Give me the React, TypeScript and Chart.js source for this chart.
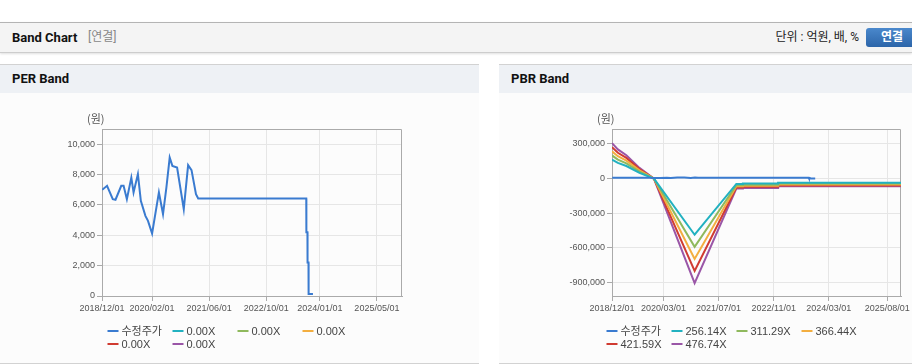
import React, { useEffect, useRef } from 'react';
import { Chart, registerables } from 'chart.js';

Chart.register(...registerables);

// ---------- data ----------
const priceLabel = '수정주가';
const priceDates = ['2018-12-03', '2019-01-13', '2019-03-03', '2019-03-26', '2019-05-14', '2019-06-03', '2019-07-01', '2019-08-08', '2019-08-27', '2019-10-03', '2019-10-28', '2019-12-06', '2019-12-28', '2020-02-01', '2020-03-30', '2020-05-04', '2020-06-02', '2020-06-30', '2020-07-23', '2020-09-01', '2020-10-28', '2020-12-04', '2021-01-02', '2021-02-09', '2021-02-28', '2023-09-07', '2023-09-08', '2023-09-17', '2023-09-18', '2023-09-26', '2023-09-27', '2023-11-03'];
const priceValues = [7000, 7260, 6380, 6340, 7260, 7260, 6380, 7800, 6820, 8030, 6270, 5280, 4950, 4120, 6820, 5400, 7150, 9120, 8570, 8460, 5720, 8620, 8290, 6710, 6420, 6420, 4200, 4200, 2200, 2200, 130, 130];

const perBandLabels = ['0.00X', '0.00X', '0.00X', '0.00X', '0.00X'];
const pbrBandLabels = ['256.14X', '311.29X', '366.44X', '421.59X', '476.74X'];

const bandDates = ['2018-12-01', '2019-01-22', '2019-04-07', '2019-08-01', '2019-12-07', '2020-12-01', '2021-12-05', '2022-01-31', '2022-02-01', '2022-12-09', '2022-12-10', '2025-12-01'];
const pbrBand1 = [165210, 135754, 108860, 49947, 0, -486666, -46617, -46617, -43544, -43544, -35860, -35860];
const pbrBand2 = [200782, 164984, 132298, 60702, 0, -591451, -56655, -56655, -52919, -52919, -43581, -43581];
const pbrBand3 = [236354, 194213, 155737, 71456, 0, -696236, -66692, -66692, -62295, -62295, -51302, -51302];
const pbrBand4 = [271926, 223443, 179176, 82210, 0, -801021, -76729, -76729, -71670, -71670, -59023, -59023];
const pbrBand5 = [307497, 252672, 202615, 92964, 0, -905806, -86767, -86767, -81046, -81046, -66744, -66744];
const perBand1: number[] = [];
const perBand2: number[] = [];
const perBand3: number[] = [];
const perBand4: number[] = [];
const perBand5: number[] = [];

const xStart = '2018/12/01';
const xEnd = '2025/12/01';
const perXTicks = ['2018/12/01', '2020/02/01', '2021/06/01', '2022/10/01', '2024/01/01', '2025/05/01'];
const pbrXTicks = ['2018/12/01', '2020/03/01', '2021/07/01', '2022/11/01', '2024/03/01', '2025/08/01'];
const perYTicks = [0, 2000, 4000, 6000, 8000, 10000];
const pbrYTicks = [-900000, -600000, -300000, 0, 300000];
const perYRange = [0, 11000];
const pbrYRange = [-1018000, 430000];
const yUnit = '(원)';

const seriesColors = ['#3a7bd0', '#22b1c0', '#8fb95d', '#f3ae40', '#d03b31', '#9a56a7'];

// ---------- helpers ----------
function toMs(s: string) {
  const [y, m, d] = s.split(/[-/]/).map(Number);
  return Date.UTC(y, m - 1, d);
}
function pad(n: number) {
  return n < 10 ? '0' + n : String(n);
}
function fmtDate(ms: number) {
  const dt = new Date(ms);
  return `${dt.getUTCFullYear()}/${pad(dt.getUTCMonth() + 1)}/${pad(dt.getUTCDate())}`;
}

const tickFont = { family: '"Liberation Sans", Arial, sans-serif', size: 9 };
const AXIS = '#aaaaaa';
const GRID = '#e6e6e6';

const framePlugin = {
  id: 'frame',
  beforeDatasetsDraw(chart: any) {
    const { ctx, chartArea } = chart;
    ctx.save();
    ctx.strokeStyle = AXIS;
    ctx.lineWidth = 1;
    ctx.beginPath();
    const t = Math.round(chartArea.top) + 0.5;
    const r = Math.round(chartArea.right) - 0.5;
    ctx.moveTo(chartArea.left, t);
    ctx.lineTo(r, t);
    ctx.lineTo(r, chartArea.bottom);
    ctx.stroke();
    ctx.restore();
  },
};

const unitPlugin = {
  id: 'unit',
  afterDraw(chart: any) {
    const { ctx, chartArea } = chart;
    ctx.save();
    ctx.font = '11px "Noto Sans CJK KR", "Liberation Sans", sans-serif';
    ctx.fillStyle = '#555';
    ctx.textAlign = 'left';
    ctx.textBaseline = 'middle';
    ctx.fillText(yUnit, chartArea.left - 15, chartArea.top - 10);
    ctx.restore();
  },
};

const gridLegendPlugin = {
  id: 'gridLegend',
  afterDraw(chart: any) {
    const { ctx, chartArea } = chart;
    const ds = chart.data.datasets;
    const colW = 65;
    const perRow = 4;
    const x0 = chart.width / 2 - 132;
    const rowY = [chartArea.bottom + 35, chartArea.bottom + 48];
    ctx.save();
    ctx.font = '11px "Liberation Sans", "Noto Sans CJK KR", sans-serif';
    ctx.textBaseline = 'middle';
    ctx.textAlign = 'left';
    ds.forEach((d: any, i: number) => {
      const row = Math.floor(i / perRow);
      const col = i % perRow;
      const x = x0 + col * colW;
      const y = rowY[row];
      ctx.strokeStyle = d.borderColor;
      ctx.lineWidth = 2;
      ctx.beginPath();
      ctx.moveTo(x, y);
      ctx.lineTo(x + 11, y);
      ctx.stroke();
      ctx.fillStyle = '#444';
      ctx.fillText(d.label, x + 14, y + 0.5);
    });
    ctx.restore();
  },
};

function makeConfig(kind: 'per' | 'pbr') {
  const isPer = kind === 'per';
  const bandLabels = isPer ? perBandLabels : pbrBandLabels;
  const bandSeries = isPer
    ? [perBand1, perBand2, perBand3, perBand4, perBand5]
    : [pbrBand1, pbrBand2, pbrBand3, pbrBand4, pbrBand5];
  const xTicks = isPer ? perXTicks : pbrXTicks;
  const yTicks = isPer ? perYTicks : pbrYTicks;
  const yRange = isPer ? perYRange : pbrYRange;
  const yAxisWidth = isPer ? 62 : 73;

  const datasets: any[] = [
    {
      label: priceLabel,
      data: priceDates.map((d, i) => ({ x: toMs(d), y: priceValues[i] })),
      borderColor: seriesColors[0],
      backgroundColor: seriesColors[0],
      borderWidth: 2,
      pointRadius: 0,
      tension: 0,
      fill: false,
    },
    ...bandLabels.map((lab, k) => ({
      label: lab,
      data: bandSeries[k].map((v, i) => ({ x: toMs(bandDates[i]), y: v })),
      borderColor: seriesColors[k + 1],
      backgroundColor: seriesColors[k + 1],
      borderWidth: 2,
      pointRadius: 0,
      tension: 0,
      fill: false,
    })),
  ];

  return {
    type: 'line',
    data: { datasets },
    options: {
      responsive: false,
      animation: false,
      devicePixelRatio: 1,
      layout: { padding: { left: 40, right: 77, top: 35, bottom: 47 } },
      plugins: {
        legend: { display: false },
        tooltip: { enabled: false },
        title: { display: false },
      },
      scales: {
        x: {
          type: 'linear',
          min: toMs(xStart),
          max: toMs(xEnd),
          afterBuildTicks: (s: any) => {
            s.ticks = xTicks.map((t) => ({ value: toMs(t) }));
          },
          afterFit: (s: any) => {
            s.height = 20;
          },
          ticks: {
            autoSkip: false,
            maxRotation: 0,
            minRotation: 0,
            padding: 2,
            color: '#555',
            font: tickFont,
            callback: (v: any) => fmtDate(Number(v)),
          },
          grid: { color: GRID, tickColor: AXIS, tickLength: 5 },
          border: { color: AXIS, width: 1 },
        },
        y: {
          type: 'linear',
          min: yRange[0],
          max: yRange[1],
          afterBuildTicks: (s: any) => {
            s.ticks = yTicks.map((v) => ({ value: v }));
          },
          afterFit: (s: any) => {
            s.width = yAxisWidth;
          },
          ticks: {
            padding: 2,
            color: '#555',
            font: tickFont,
            callback: (v: any) => Number(v).toLocaleString('en-US'),
          },
          grid: { color: GRID, tickColor: AXIS, tickLength: 5 },
          border: { color: AXIS, width: 1 },
        },
      },
    },
    plugins: [framePlugin, unitPlugin, gridLegendPlugin],
  };
}

function BandCanvas({ kind }: { kind: 'per' | 'pbr' }) {
  const ref = useRef<HTMLCanvasElement | null>(null);
  useEffect(() => {
    if (!ref.current) return;
    const chart = new Chart(ref.current, makeConfig(kind) as any);
    return () => chart.destroy();
  }, [kind]);
  return (
    <canvas
      ref={ref}
      width={479}
      height={269}
      style={{ position: 'absolute', left: 0, top: 29, width: 479, height: 269, display: 'block' }}
    />
  );
}

const uiFont = 'Roboto, "Noto Sans CJK KR", "Liberation Sans", sans-serif';

function Panel({ left, title, kind }: { left: number; title: string; kind: 'per' | 'pbr' }) {
  return (
    <div
      style={{
        position: 'absolute',
        left,
        top: 64,
        width: 479,
        height: 298,
        background: '#fcfcfc',
        borderTop: '1px solid #d2d2d2',
        borderBottom: '2px solid #d2d2d2',
      }}
    >
      <div
        style={{
          position: 'absolute',
          left: 0,
          top: 0,
          width: 479,
          height: 28,
          background: '#eef1f5',
          lineHeight: '28px',
          fontWeight: 700,
          fontSize: 13,
          color: '#111',
          paddingLeft: 12,
          boxSizing: 'border-box',
        }}
      >
        {title}
      </div>
      <BandCanvas kind={kind} />
    </div>
  );
}

export default function App() {
  return (
    <div
      style={{
        position: 'relative',
        width: 912,
        height: 364,
        overflow: 'hidden',
        background: '#fff',
        fontFamily: uiFont,
      }}
    >
      <style>{'html,body{margin:0;padding:0;overflow:hidden;}'}</style>
      <div
        style={{
          position: 'absolute',
          left: 0,
          top: 22,
          width: 912,
          height: 29,
          background: '#f4f4f4',
          borderTop: '1px solid #b4b4b4',
          borderBottom: '1px solid #cdcdcd',
          boxShadow: '0 1px 2px rgba(0,0,0,0.12)',
        }}
      >
        <span style={{ position: 'absolute', left: 12, top: 0, lineHeight: '29px', fontWeight: 700, fontSize: 13, color: '#111' }}>
          Band Chart
        </span>
        <span style={{ position: 'absolute', left: 88, top: 0, lineHeight: '29px', fontSize: 12, color: '#888' }}>
          [연결]
        </span>
        <span style={{ position: 'absolute', right: 53, top: 0, lineHeight: '29px', fontSize: 12, color: '#222' }}>
          단위 : 억원, 배, %
        </span>
        <div
          style={{
            position: 'absolute',
            left: 866,
            top: 5,
            width: 52,
            height: 19,
            borderRadius: 3,
            background: 'linear-gradient(#4a88cc, #2c65a9)',
            color: '#fff',
            fontWeight: 700,
            fontSize: 12,
            lineHeight: '19px',
            textAlign: 'center',
          }}
        >
          연결
        </div>
      </div>
      <Panel left={0} title="PER Band" kind="per" />
      <Panel left={499} title="PBR Band" kind="pbr" />
    </div>
  );
}
